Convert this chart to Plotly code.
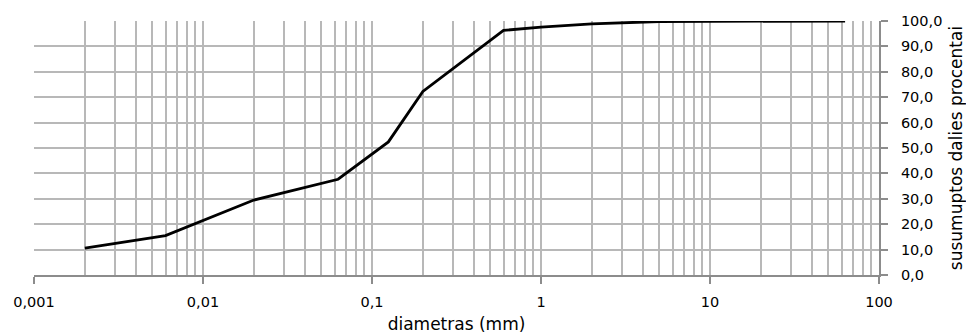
import plotly.graph_objects as go

diameter_mm = [0.002, 0.006, 0.02, 0.063, 0.125, 0.2, 0.6, 1, 2, 5, 63]
cum_percent = [10.6, 15.5, 29.5, 37.7, 52.4, 72.3, 96.3, 97.6, 98.9, 99.8, 100.0]

x_tick_vals = [0.001, 0.01, 0.1, 1, 10, 100]
x_tick_text = ["0,001", "0,01", "0,1", "1", "10", "100"]
x_minor_vals = [m * d for d in [0.001, 0.01, 0.1, 1, 10] for m in range(2, 10)]
y_tick_vals = [0, 10, 20, 30, 40, 50, 60, 70, 80, 90, 100]

grid_col = "#b8b8b8"
axis_col = "#8c8c8c"

fig = go.Figure()
fig.add_trace(go.Scatter(x=diameter_mm, y=cum_percent, mode="lines",
                         line=dict(color="black", width=2.8), showlegend=False))

fig.update_layout(
    width=966, height=334,
    margin=dict(l=34, r=87, t=21, b=59),
    paper_bgcolor="white", plot_bgcolor="white",
    separators=",.",
    font=dict(family="DejaVu Sans", size=14, color="black"),
    xaxis=dict(
        type="log", range=[-3, 2], automargin=False,
        tickvals=x_tick_vals, ticktext=x_tick_text,
        showgrid=True, gridcolor=grid_col, gridwidth=2,
        minor=dict(tickvals=x_minor_vals, showgrid=True, gridcolor=grid_col, gridwidth=2, ticks=""),
        showline=True, linecolor=axis_col, linewidth=2,
        ticks="outside", ticklen=7, tickcolor=axis_col, tickwidth=2,
        ticklabelstandoff=6,
        tickfont=dict(family="DejaVu Sans", size=14.5),
        title=dict(text="diametras (mm)", font=dict(family="DejaVu Sans", size=17), standoff=9),
        zeroline=False,
    ),
    yaxis=dict(
        side="right", range=[0, 100], automargin=False,
        tickvals=y_tick_vals, tickformat=".1f",
        showgrid=True, gridcolor=grid_col, gridwidth=2,
        showline=True, linecolor=axis_col, linewidth=2,
        ticks="outside", ticklen=7, tickcolor=axis_col, tickwidth=2,
        ticklabelstandoff=10,
        tickfont=dict(family="DejaVu Sans", size=14.5),
        title=dict(text="susumuptos dalies procentai", font=dict(family="DejaVu Sans", size=17), standoff=16),
        zeroline=False,
    ),
)

fig.write_html("out.html", config={"displayModeBar": False},
               post_script="document.body.style.margin='0';document.body.style.overflow='hidden';")
